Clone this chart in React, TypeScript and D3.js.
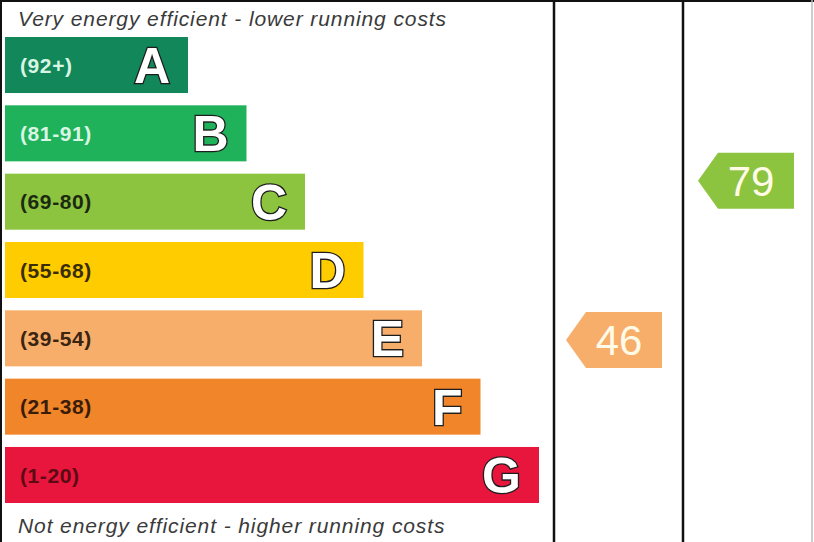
import { useEffect, useRef } from 'react';
import * as d3 from 'd3';

const bands = ['A', 'B', 'C', 'D', 'E', 'F', 'G'];
const rangeLabels = ['(92+)', '(81-91)', '(69-80)', '(55-68)', '(39-54)', '(21-38)', '(1-20)'];
const bandMin = [92, 81, 69, 55, 39, 21, 1];
const bandMax = [100, 91, 80, 68, 54, 38, 20];
const bandColors = ['#12875a', '#1fb25a', '#8cc43f', '#ffcc00', '#f7ae6b', '#f08529', '#e8163c'];
const labelColors = ['#d9f5e3', '#d9f5e3', '#1c2a12', '#3a2c05', '#3a2412', '#3a1c08', '#5c0a14'];

const columns = ['Current', 'Potential'];
const scores = [46, 79];

const topText = 'Very energy efficient - lower running costs';
const bottomText = 'Not energy efficient - higher running costs';

const W = 814;
const H = 542;

export default function App() {
  const svgRef = useRef<SVGSVGElement>(null);

  useEffect(() => {
    document.body.style.margin = '0';
    if (!svgRef.current) return;
    const svg = d3.select(svgRef.current);
    svg.selectAll('*').remove();

    const font = '"Liberation Sans", Arial, sans-serif';

    svg.append('rect').attr('width', W).attr('height', H).attr('fill', '#fff');

    const y = d3.scaleBand<string>().domain(bands).range([37, 503]).paddingInner(0.18);
    const barEnd = d3.scaleLinear().domain([0, bands.length - 1]).range([188, 539]);
    const col = d3.scaleBand<string>().domain(columns).range([554, 812]);

    // score -> y, piecewise through each band (top of band = max score)
    const scoreDomain: number[] = [];
    const scoreRange: number[] = [];
    bands.forEach((b, i) => {
      scoreDomain.push(bandMax[i] + 0.5, bandMin[i] - 0.5);
      scoreRange.push(y(b)!, y(b)! + y.bandwidth());
    });
    const scoreY = d3.scaleLinear().domain(scoreDomain).range(scoreRange);

    // bars
    const g = svg.append('g');
    const rows = g.selectAll('g.row').data(bands).join('g').attr('class', 'row');
    rows.append('rect')
      .attr('x', 5)
      .attr('y', d => y(d)!)
      .attr('width', (_, i) => barEnd(i) - 5)
      .attr('height', y.bandwidth())
      .attr('fill', (_, i) => bandColors[i]);

    rows.append('text')
      .attr('x', 20)
      .attr('y', d => y(d)! + y.bandwidth() / 2)
      .attr('dy', '0.36em')
      .attr('font-family', font)
      .attr('font-weight', 'bold')
      .attr('font-size', 21)
      .attr('letter-spacing', 0.6)
      .attr('fill', (_, i) => labelColors[i])
      .text((_, i) => rangeLabels[i]);

    rows.append('text')
      .attr('x', (_, i) => barEnd(i) - 18)
      .attr('y', d => y(d)! + y.bandwidth() / 2)
      .attr('dy', '0.36em')
      .attr('text-anchor', 'end')
      .attr('font-family', font)
      .attr('font-weight', 'bold')
      .attr('font-size', 50)
      .attr('fill', '#fff')
      .attr('stroke', '#1e1e1e')
      .attr('stroke-width', 2.6)
      .attr('paint-order', 'stroke')
      .text(d => d);

    // captions
    [[topText, 26], [bottomText, 533]].forEach(([t, ty]) => {
      svg.append('text')
        .attr('x', 18).attr('y', ty as number)
        .attr('font-family', font).attr('font-style', 'italic').attr('font-size', 21)
        .attr('letter-spacing', 0.9)
        .attr('fill', '#3a3a3a')
        .text(t as string);
    });

    // frame
    svg.append('line').attr('x1', 0).attr('x2', W).attr('y1', 1).attr('y2', 1)
      .attr('stroke', '#111').attr('stroke-width', 2);
    svg.append('line').attr('x1', 1).attr('x2', 1).attr('y1', 0).attr('y2', H)
      .attr('stroke', '#111').attr('stroke-width', 2);
    columns.forEach(c => {
      svg.append('line').attr('x1', col(c)!).attr('x2', col(c)!).attr('y1', 0).attr('y2', H)
        .attr('stroke', '#111').attr('stroke-width', 2.5);
    });
    svg.append('line').attr('x1', 812).attr('x2', 812).attr('y1', 0).attr('y2', H)
      .attr('stroke', '#bbb').attr('stroke-width', 1.5);

    // score arrows
    const arrowW = 96;
    const tip = 20;
    const h = y.bandwidth();
    columns.forEach((c, i) => {
      const s = scores[i];
      const bi = bands.findIndex((_, k) => s >= bandMin[k] && s <= bandMax[k]);
      const cy = scoreY(s);
      const x0 = col(c)! + 12 + i * 3;
      const path = d3.path();
      path.moveTo(x0, cy);
      path.lineTo(x0 + tip, cy - h / 2);
      path.lineTo(x0 + arrowW, cy - h / 2);
      path.lineTo(x0 + arrowW, cy + h / 2);
      path.lineTo(x0 + tip, cy + h / 2);
      path.closePath();
      svg.append('path').attr('d', path.toString()).attr('fill', bandColors[bi]);
      svg.append('text')
        .attr('x', x0 + arrowW / 2 + 5)
        .attr('y', cy)
        .attr('dy', '0.36em')
        .attr('text-anchor', 'middle')
        .attr('font-family', font)
        .attr('font-size', 42)
        .attr('fill', '#fffbe6')
        .text(String(s));
    });
  }, []);

  return <svg ref={svgRef} width={W} height={H} style={{ display: 'block' }} />;
}
